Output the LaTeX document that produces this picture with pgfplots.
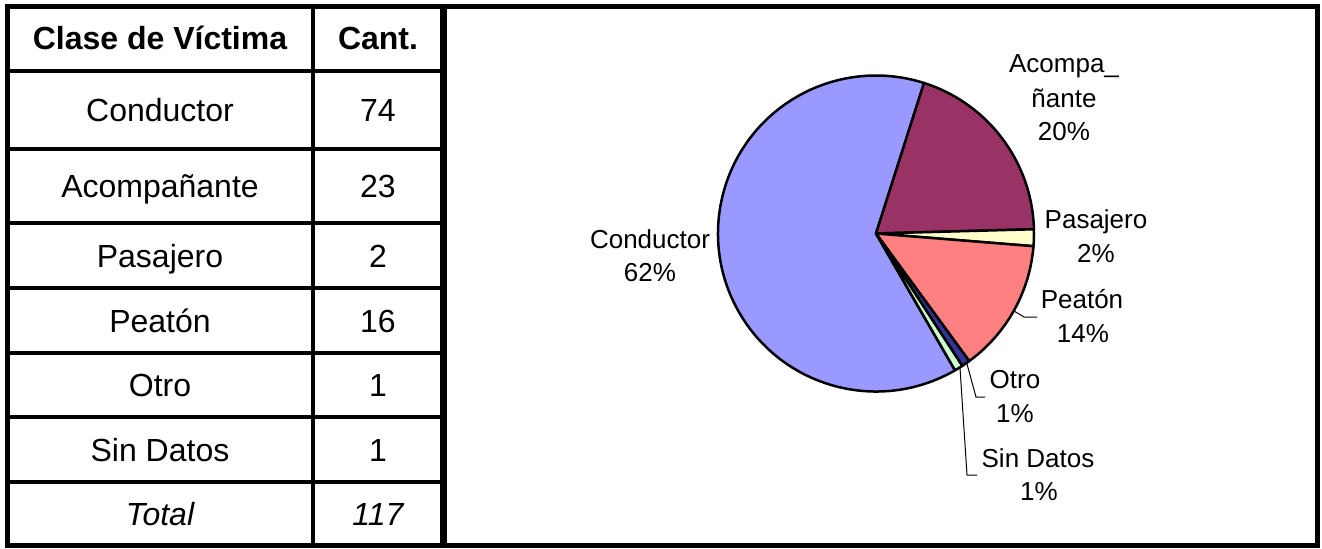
\documentclass[border=0pt]{standalone}
\usepackage{pgfplots}
\pgfplotsset{compat=1.18}
\usepackage{fontspec}
\setmainfont{Liberation Sans}
\definecolor{cCond}{HTML}{9999FF}
\definecolor{cAcom}{HTML}{993366}
\definecolor{cPasa}{HTML}{FFFFCC}
\definecolor{cPeat}{HTML}{FF8080}
\definecolor{cOtro}{HTML}{333399}
\definecolor{cSinD}{HTML}{CCFFCC}
% counts
\newcommand{\vCond}{74}
\newcommand{\vAcom}{23}
\newcommand{\vPasa}{2}
\newcommand{\vPeat}{16}
\newcommand{\vOtro}{1}
\newcommand{\vSinD}{1}
\newcommand{\vTot}{117}
\newcommand{\aStart}{-60}
\begin{document}
\begin{tikzpicture}
\begin{axis}[width=1322pt,height=547pt,scale only axis,
  xmin=0,xmax=1322,ymin=0,ymax=547,y dir=reverse,hide axis,clip=false]
\path (axis cs:0,0) rectangle (axis cs:1322,547);
% ---------- pie ----------
\tikzset{sector/.style={draw=black,line width=2.5pt,line join=round}}
\filldraw[sector,fill=cCond] (axis cs:876,233.5) -- ++({\aStart}:158pt)
  arc[start angle={\aStart},delta angle={-(\vCond/\vTot)*360},radius=158pt] -- cycle;
\filldraw[sector,fill=cAcom] (axis cs:876,233.5) -- ++({\aStart-(\vCond/\vTot)*360}:158pt)
  arc[start angle={\aStart-(\vCond/\vTot)*360},delta angle={-(\vAcom/\vTot)*360},radius=158pt] -- cycle;
\filldraw[sector,fill=cPasa] (axis cs:876,233.5) -- ++({\aStart-((\vCond+\vAcom)/\vTot)*360}:158pt)
  arc[start angle={\aStart-((\vCond+\vAcom)/\vTot)*360},delta angle={-(\vPasa/\vTot)*360},radius=158pt] -- cycle;
\filldraw[sector,fill=cPeat] (axis cs:876,233.5) -- ++({\aStart-((\vCond+\vAcom+\vPasa)/\vTot)*360}:158pt)
  arc[start angle={\aStart-((\vCond+\vAcom+\vPasa)/\vTot)*360},delta angle={-(\vPeat/\vTot)*360},radius=158pt] -- cycle;
\filldraw[sector,fill=cOtro] (axis cs:876,233.5) -- ++({\aStart-((\vCond+\vAcom+\vPasa+\vPeat)/\vTot)*360}:158pt)
  arc[start angle={\aStart-((\vCond+\vAcom+\vPasa+\vPeat)/\vTot)*360},delta angle={-(\vOtro/\vTot)*360},radius=158pt] -- cycle;
\filldraw[sector,fill=cSinD] (axis cs:876,233.5) -- ++({\aStart-((\vCond+\vAcom+\vPasa+\vPeat+\vOtro)/\vTot)*360}:158pt)
  arc[start angle={\aStart-((\vCond+\vAcom+\vPasa+\vPeat+\vOtro)/\vTot)*360},delta angle={-(\vSinD/\vTot)*360},radius=158pt] -- cycle;
% leader lines
\draw[line width=1pt] (axis cs:1014,311) -- (axis cs:1024,317) -- (axis cs:1037,317);
\draw[line width=1pt] (axis cs:967,364) -- (axis cs:976,397) -- (axis cs:985,397);
\draw[line width=1pt] (axis cs:960,368) -- (axis cs:967,475) -- (axis cs:977,475);
% pie labels
\tikzset{pl/.style={anchor=base,inner sep=0pt,font=\fontsize{26}{31}\selectfont}}
\node[pl] at (axis cs:650,248) {Conductor};
\node[pl] at (axis cs:650,281) {62\%};
\node[pl] at (axis cs:1064,73) {Acompa\_};
\node[pl] at (axis cs:1064,107) {ñante};
\node[pl] at (axis cs:1064,140) {20\%};
\node[pl] at (axis cs:1096,228) {Pasajero};
\node[pl] at (axis cs:1096,262) {2\%};
\node[pl] at (axis cs:1082,308) {Peatón};
\node[pl] at (axis cs:1083,342) {14\%};
\node[pl] at (axis cs:1015,388) {Otro};
\node[pl] at (axis cs:1015,422) {1\%};
\node[pl] at (axis cs:1038,467) {Sin Datos};
\node[pl] at (axis cs:1039,500) {1\%};
% ---------- table ----------
\draw[line width=3.5pt] (axis cs:313,6) -- (axis cs:313,545);
\foreach \yy in {71,149,223,288,353,417,482}{
  \edef\tmp{\noexpand\draw[line width=3.5pt] (axis cs:7.5,\yy) -- (axis cs:443,\yy);}\tmp
}
\draw[line width=5pt,line cap=rect] (axis cs:7.5,6.5) -- (axis cs:1317,6.5);
\draw[line width=5pt,line cap=rect] (axis cs:7.5,545) -- (axis cs:1317,545);
\draw[line width=5pt,line cap=rect] (axis cs:7.5,6.5) -- (axis cs:7.5,545);
\draw[line width=5pt,line cap=rect] (axis cs:1317,6.5) -- (axis cs:1317,545);
\draw[line width=7pt] (axis cs:443,6.5) -- (axis cs:443,545);
\tikzset{tl/.style={anchor=base,inner sep=0pt,font=\fontsize{32}{38}\selectfont}}
\node[tl,font=\fontsize{32}{38}\selectfont\bfseries] at (axis cs:160,50) {Clase de Víctima};
\node[tl,font=\fontsize{32}{38}\selectfont\bfseries] at (axis cs:378,50) {Cant.};
\node[tl] at (axis cs:160,121.5) {Conductor};
\node[tl] at (axis cs:378,121.5) {74};
\node[tl] at (axis cs:160,197.5) {Acompañante};
\node[tl] at (axis cs:378,197.5) {23};
\node[tl] at (axis cs:160,267) {Pasajero};
\node[tl] at (axis cs:378,267) {2};
\node[tl] at (axis cs:160,332) {Peatón};
\node[tl] at (axis cs:378,332) {16};
\node[tl] at (axis cs:160,396.5) {Otro};
\node[tl] at (axis cs:378,396.5) {1};
\node[tl] at (axis cs:160,461) {Sin Datos};
\node[tl] at (axis cs:378,461) {1};
\node[tl,font=\fontsize{32}{38}\selectfont\itshape] at (axis cs:160,525) {Total};
\node[tl,font=\fontsize{32}{38}\selectfont\itshape] at (axis cs:378,525) {117};
\end{axis}
\end{tikzpicture}
\end{document}
